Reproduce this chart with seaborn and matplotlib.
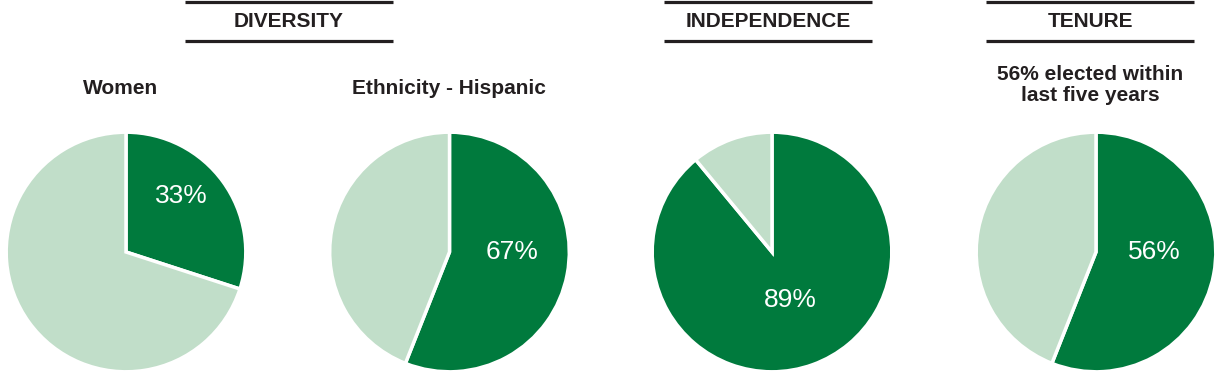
import matplotlib
matplotlib.use("Agg")
import matplotlib.pyplot as plt
import seaborn as sns

# data
groups = ['DIVERSITY', 'INDEPENDENCE', 'TENURE']
titles = ['Women', 'Ethnicity - Hispanic', '', '56% elected within\nlast five years']
shares = [30, 56, 89, 56]            # dark wedge as drawn (percent)
labels = ['33%', '67%', '89%', '56%']  # text printed on the dark wedge

sns.set_theme(style='white')
plt.rcParams['font.family'] = ['Liberation Sans', 'DejaVu Sans']

dark = '#007a3d'
light = '#c1dec9'
ink = '#231f20'

W, H = 1222, 376
fig = plt.figure(figsize=(W / 100, H / 100), dpi=100)

# overlay in pixel units for headers and titles
over = fig.add_axes([0, 0, 1, 1])
over.set_xlim(0, W)
over.set_ylim(H, 0)
over.axis('off')

header_x = [289, 768, 1090]
for name, hx in zip(groups, header_x):
    over.plot([hx - 104, hx + 104], [2, 2], color=ink, lw=2.3, solid_capstyle='butt')
    over.plot([hx - 104, hx + 104], [41, 41], color=ink, lw=2.3, solid_capstyle='butt')
    over.text(hx, 21.5, name, ha='center', va='center', fontsize=15,
              fontweight='bold', color=ink)

centers = [126, 449.5, 772, 1096]
title_x = [121, 449, 772, 1090]
label_xy = [(0.46, 0.47), (0.52, 0.0), (0.15, -0.40), (0.49, 0.0)]
r, cy = 121, 252

for i, cx in enumerate(centers):
    if titles[i]:
        ty = 89 if '\n' not in titles[i] else 85
        over.text(title_x[i], ty, titles[i], ha='center', va='center',
                  fontsize=15, fontweight='bold', color=ink, linespacing=1.15)
    ax = fig.add_axes([(cx - r) / W, (H - cy - r) / H, 2 * r / W, 2 * r / H])
    ax.pie([shares[i], 100 - shares[i]], colors=[dark, light], startangle=90,
           counterclock=False, radius=1,
           wedgeprops=dict(edgecolor='white', linewidth=2.5))
    ax.set_xlim(-1.01, 1.01)
    ax.set_ylim(-1.01, 1.01)
    ax.text(label_xy[i][0], label_xy[i][1], labels[i], ha='center', va='center',
            fontsize=19, color='white')

fig.savefig('out.png', dpi=100)
